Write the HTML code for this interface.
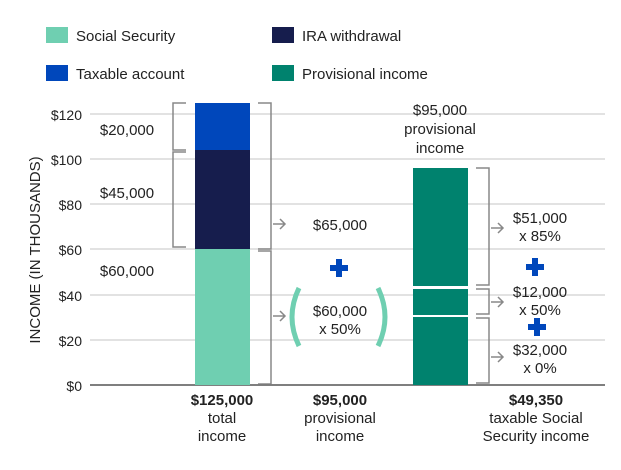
<!DOCTYPE html>
<html><head><style>body{margin:0;background:#fff}svg{display:block}text{font-family:"Liberation Sans",sans-serif;fill:#222}</style></head><body>
<svg width="621" height="470" viewBox="0 0 621 470">
<rect x="46" y="27" width="22" height="16" fill="#6fcfb1"/><text x="76" y="41" font-size="15">Social Security</text>
<rect x="272" y="27" width="22" height="16" fill="#161d4d"/><text x="302" y="41" font-size="15">IRA withdrawal</text>
<rect x="46" y="65" width="22" height="16" fill="#0047bb"/><text x="76" y="79" font-size="15">Taxable account</text>
<rect x="272" y="65" width="22" height="16" fill="#00826e"/><text x="302" y="79" font-size="15">Provisional income</text>
<g stroke="#d8d8d8" stroke-width="1.5">
<line x1="90" y1="114" x2="605" y2="114"/><line x1="90" y1="159" x2="605" y2="159"/><line x1="90" y1="204" x2="605" y2="204"/><line x1="90" y1="249" x2="605" y2="249"/><line x1="90" y1="295" x2="605" y2="295"/><line x1="90" y1="340" x2="605" y2="340"/></g>
<line x1="90" y1="385" x2="605" y2="385" stroke="#555" stroke-width="1.5"/>
<g font-size="14" text-anchor="end"><text x="82" y="120">$120</text><text x="82" y="165">$100</text><text x="82" y="210">$80</text><text x="82" y="255">$60</text><text x="82" y="301">$40</text><text x="82" y="346">$20</text><text x="82" y="391">$0</text></g>
<text transform="translate(40,250) rotate(-90)" font-size="15" text-anchor="middle">INCOME (IN THOUSANDS)</text>
<rect x="195" y="103" width="55" height="47" fill="#0047bb"/>
<rect x="195" y="150" width="55" height="99" fill="#161d4d"/>
<rect x="195" y="249" width="55" height="136" fill="#6fcfb1"/>
<rect x="413" y="168" width="55" height="118" fill="#00826e"/>
<rect x="413" y="289" width="55" height="26" fill="#00826e"/>
<rect x="413" y="317" width="55" height="68" fill="#00826e"/>
<g stroke="#888" stroke-width="1.5" fill="none">
<path d="M186 103H173V150H186"/><path d="M186 152H173V247H186"/>
<path d="M258 103H271V249H258"/><path d="M258 251H271V384H258"/>
<path d="M476 168H489V285H476"/><path d="M476 289H489V314H476"/><path d="M476 318H489V383H476"/>
<path d="M273 224H285M280 219L285 224L280 229"/><path d="M273 316H285M280 311L285 316L280 321"/>
<path d="M491 228H503M498 223L503 228L498 233"/><path d="M491 302H503M498 297L503 302L498 307"/><path d="M491 357H503M498 352L503 357L498 362"/>
</g>
<g font-size="15" text-anchor="middle">
<text x="127" y="135">$20,000</text><text x="127" y="198">$45,000</text><text x="127" y="276">$60,000</text>
<text x="340" y="230">$65,000</text><text x="340" y="316">$60,000</text><text x="340" y="334">x 50%</text>
<text x="440" y="115">$95,000</text><text x="440" y="134">provisional</text><text x="440" y="153">income</text>
<text x="540" y="223">$51,000</text><text x="540" y="241">x 85%</text>
<text x="540" y="297">$12,000</text><text x="540" y="315">x 50%</text>
<text x="540" y="355">$32,000</text><text x="540" y="373">x 0%</text>
<text x="222" y="405" font-weight="bold">$125,000</text><text x="222" y="423">total</text><text x="222" y="441">income</text>
<text x="340" y="405" font-weight="bold">$95,000</text><text x="340" y="423">provisional</text><text x="340" y="441">income</text>
<text x="536" y="405" font-weight="bold">$49,350</text><text x="536" y="423">taxable Social</text><text x="536" y="441">Security income</text>
</g>
<g fill="#0047bb"><rect x="336" y="259" width="6" height="18"/><rect x="330" y="265" width="18" height="6"/>
<rect x="532" y="258" width="6" height="18"/><rect x="526" y="264" width="18" height="6"/>
<rect x="534" y="318" width="6" height="18"/><rect x="528" y="324" width="18" height="6"/></g>
<g stroke="#6fcfb1" stroke-width="5" fill="none"><path d="M299 288Q285 317 299 346"/><path d="M378 288Q392 317 378 346"/></g>
</svg>
</body></html>
